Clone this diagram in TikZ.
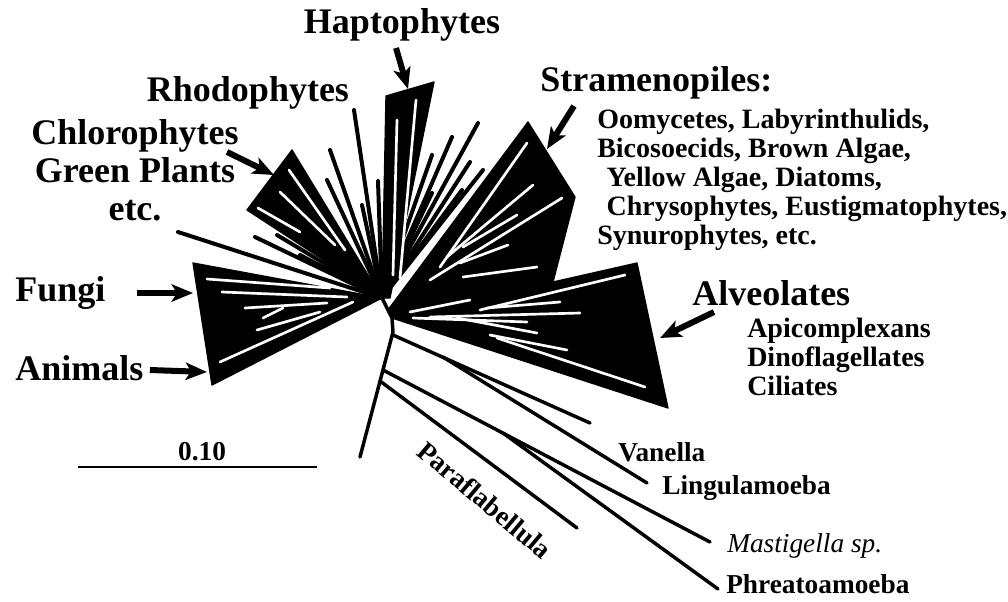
\documentclass[tikz,border=0pt]{standalone}
\usepackage{fontspec}
\setmainfont{Liberation Serif}
\usetikzlibrary{arrows.meta, positioning}

\tikzset{
  clade/.style={fill=black, draw=black, line width=1pt, line join=round},
  branch/.style={draw=black, line width=3pt, line cap=round},
  gapline/.style={draw=white, line width=2pt, line cap=round},
  amoeba/.style={draw=black, line width=2.6pt, line cap=round, line join=round},
  pointer/.style={line width=4.5pt, -{Stealth[length=16pt,width=13pt,inset=4pt]}},
  biglabel/.style={font=\bfseries\fontsize{27}{28.5}\selectfont, inner sep=0pt},
  sublabel/.style={font=\bfseries\fontsize{21}{21.75}\selectfont, inner sep=0pt, align=left, anchor=west},
  taxon/.style={font=\bfseries\fontsize{20.5}{22}\selectfont, inner sep=0pt, anchor=west},
}

\begin{document}
\begin{tikzpicture}[x=0.75pt, y=-0.75pt]
  \useasboundingbox (0,0) rectangle (1008,601);

  % centre of the crown
  \coordinate (c0) at (382,298);
  \coordinate (cR) at (388,310);
  \coordinate (c1) at (392,318);

  % clades
  \path[clade] (193,263) -- (212,385) -- (c0) -- cycle;            % fungi, animals
  \path[clade] (292,150) -- (247,210) -- (c0) -- cycle;            % chlorophytes
  \path[clade] (386,96) -- (434,82) -- (390,298) -- (c0) -- cycle; % haptophytes
  \path[clade] (528,122) -- (575,197) -- (553,282) -- (cR) -- cycle;
  \path[clade] (cR) -- (553,282) -- (637,263) -- (668,408) -- (c1) -- cycle;

  % single branches of the crown
  \foreach \tx/\ty in {178/232, 255/237, 277/235, 300/255, 330/150,
                       327/180, 354/110, 378/181, 362/205,
                       478/123, 452/137, 432/155, 470/162, 483/170,
                       432/193, 462/190}
    \draw[branch] (c0) -- (\tx,\ty);

  % gaps inside the clades
  \foreach \xa/\ya/\xb/\yb in {207/279/330/288, 222/292/347/297, 245/308/327/303,
                     263/318/283/308, 257/330/320/312, 220/362/353/302,
                     289/170/345/250, 280/192/335/245, 258/208/300/232,
                     397/120/393/275, 416/100/400/278,
                     527/143/440/267, 533/185/447/257, 562/198/430/280,
                     517/215/463/247, 508/245/460/263, 537/267/463/277,
                     625/275/480/310, 560/302/487/308, 580/313/430/317,
                     527/322/413/318, 537/333/457/318, 567/350/490/335,
                     645/387/497/338, 470/300/410/312}
    \draw[gapline] (\xa,\ya) -- (\xb,\yb);

  % amoebae
  \coordinate (stemTop) at (393,332);
  \coordinate (stemEnd) at (360,457);
  \coordinate (vanBase) at (393,335);
  \coordinate (linBase) at (443,357);
  \coordinate (masBase) at (383,370);
  \coordinate (phrBase) at (503,433);
  \coordinate (parBase) at (380,381);
  \coordinate (vanTip) at (590,423);
  \coordinate (linTip) at (647,483);
  \coordinate (masTip) at (710,542);
  \coordinate (phrTip) at (718,589);
  \coordinate (parTip) at (577,528);
  \draw[amoeba] (c0) -- (c1) -- (stemTop) -- (stemEnd);
  \draw[amoeba] (vanBase) -- (vanTip);
  \draw[amoeba] (linBase) -- (linTip);
  \draw[amoeba] (masBase) -- (masTip);
  \draw[amoeba] (phrBase) -- (phrTip);
  \draw[amoeba] (parBase) -- (parTip);

  % group labels
  \node[biglabel] (hapto) at (402,25) {Haptophytes};
  \node[biglabel] (rhodo) at (248,93) {Rhodophytes};
  \node[biglabel, align=center] (chloro) at (135,170) {Chlorophytes\\Green Plants\\etc.};
  \node[biglabel, anchor=west] (fungi) at (15,293) {Fungi};
  \node[biglabel, anchor=west] (animals) at (15,368) {Animals};
  \node[biglabel, anchor=west] (strameno) at (540,83) {Stramenopiles:};
  \node[sublabel] (stramenolist) at (597,180) {Oomycetes, Labyrinthulids,\\
    Bicosoecids, Brown Algae,\\
    \hspace*{7pt}Yellow Algae, Diatoms,\\
    \hspace*{7pt}Chrysophytes, Eustigmatophytes,\\
    Synurophytes, etc.};
  \node[biglabel, anchor=west] (alveo) at (692,293) {Alveolates};
  \node[sublabel] (alveolist) at (747,357) {Apicomplexans\\Dinoflagellates\\Ciliates};

  % pointers
  \coordinate (haptoTail) at (396,48);   \coordinate (haptoHead) at (408,89);
  \coordinate (chloroTail) at (227,152); \coordinate (chloroHead) at (274,175);
  \coordinate (fungiTail) at (137,293);  \coordinate (fungiHead) at (193,293);
  \coordinate (animalsTail) at (150,370); \coordinate (animalsHead) at (207,372);
  \coordinate (stramTail) at (574,106);  \coordinate (stramHead) at (547,149);
  \coordinate (alveoTail) at (714,312);  \coordinate (alveoHead) at (660,338);
  \draw[pointer] (haptoTail) -- (haptoHead);
  \draw[pointer] (chloroTail) -- (chloroHead);
  \draw[pointer] (fungiTail) -- (fungiHead);
  \draw[pointer] (animalsTail) -- (animalsHead);
  \draw[pointer] (stramTail) -- (stramHead);
  \draw[pointer] (alveoTail) -- (alveoHead);

  % amoeba labels
  \node[taxon] (vanella) at (618,452) {Vanella};
  \node[taxon] (lingula) at (662,488) {Lingulamoeba};
  \node[taxon, font=\itshape\fontsize{20.5}{22}\selectfont] (mastig) at (727,546) {Mastigella sp.};
  \node[taxon] (phreato) at (726,584) {Phreatoamoeba};
  \node[taxon, anchor=center, rotate=-40] (parafl) at (485,500) {Paraflabellula};

  % scale
  \coordinate (scaleL) at (78,467);
  \coordinate (scaleR) at (317,467);
  \draw[line width=1.6pt] (scaleL) -- (scaleR);
  \node[taxon, anchor=center] (scalelbl) at (202,452) {0.10};
\end{tikzpicture}
\end{document}
